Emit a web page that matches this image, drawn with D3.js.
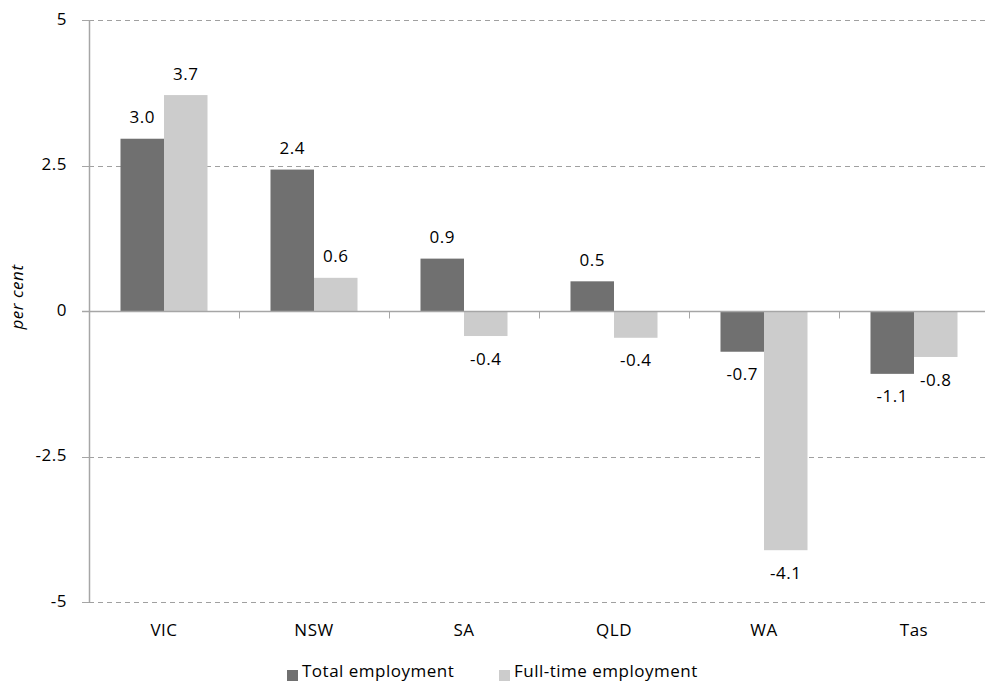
<!DOCTYPE html>
<html>
<head>
<meta charset="utf-8">
<script src="https://cdn.jsdelivr.net/npm/d3@7/dist/d3.min.js"></script>
<style>
  html, body { margin: 0; padding: 0; background: #fff; }
  text { font-family: "Open Sans", "Noto Sans", sans-serif; fill: #000; letter-spacing: 0.5px; }
</style>
</head>
<body>
<svg id="chart" width="985" height="685"></svg>
<script>
const categories = ["VIC", "NSW", "SA", "QLD", "WA", "Tas"];
const seriesNames = ["Total employment", "Full-time employment"];
const totalEmployment = [2.96, 2.43, 0.90, 0.51, -0.70, -1.08];
const fullTimeEmployment = [3.71, 0.57, -0.43, -0.46, -4.11, -0.79];
const totalLabels = ["3.0", "2.4", "0.9", "0.5", "-0.7", "-1.1"];
const fullTimeLabels = ["3.7", "0.6", "-0.4", "-0.4", "-4.1", "-0.8"];
const yTicks = [-5, -2.5, 0, 2.5, 5];
const yTickLabels = ["-5", "-2.5", "0", "2.5", "5"];
const colors = ["#707070", "#cccccc"];

const FS = 17;
const svg = d3.select("#chart");
const x0 = 89, x1 = 989;
const y = d3.scaleLinear().domain([-5, 5]).range([602, 20]);
const x = d3.scaleBand().domain(categories).range([x0, x1]).paddingInner(0).paddingOuter(0);
const inner = d3.scaleBand().domain([0, 1]).range([0, x.bandwidth()]).paddingInner(0).paddingOuter(0.724);

// gridlines (dashed, except zero)
svg.append("g").selectAll("line").data(yTicks.filter(t => t !== 0)).join("line")
  .attr("x1", x0).attr("x2", 985)
  .attr("y1", d => Math.round(y(d)) + 0.5).attr("y2", d => Math.round(y(d)) + 0.5)
  .attr("stroke", "#a0a0a0").attr("stroke-width", 1).attr("stroke-dasharray", "5,4");

// bars
const series = [totalEmployment, fullTimeEmployment];
const labels = [totalLabels, fullTimeLabels];
series.forEach((vals, s) => {
  const g = svg.append("g");
  g.selectAll("rect").data(vals).join("rect")
    .attr("x", (d, i) => x(categories[i]) + inner(s))
    .attr("width", inner.bandwidth())
    .attr("y", d => y(Math.max(0, d)))
    .attr("height", d => Math.abs(y(d) - y(0)))
    .attr("fill", colors[s]);
  g.selectAll("text").data(vals).join("text")
    .attr("x", (d, i) => x(categories[i]) + inner(s) + inner.bandwidth() / 2)
    .attr("y", d => d >= 0 ? y(d) - 20 : y(d) + 24)
    .attr("text-anchor", "middle")
    .attr("dominant-baseline", "middle")
    .attr("font-size", FS)
    .text((d, i) => labels[s][i]);
});

// zero axis line
const y0 = Math.round(y(0)) + 0.5;
svg.append("line").attr("x1", x0 - 7).attr("x2", 985).attr("y1", y0).attr("y2", y0)
  .attr("stroke", "#a6a6a6").attr("stroke-width", 1.5);
// category tick marks
svg.append("g").selectAll("line").data(categories.slice(1)).join("line")
  .attr("x1", d => Math.round(x(d)) + 0.5).attr("x2", d => Math.round(x(d)) + 0.5)
  .attr("y1", y0).attr("y2", y0 + 7)
  .attr("stroke", "#a6a6a6").attr("stroke-width", 1);

// y axis line and ticks
svg.append("line").attr("x1", x0 + 0.5).attr("x2", x0 + 0.5)
  .attr("y1", y(5)).attr("y2", y(-5)).attr("stroke", "#a6a6a6").attr("stroke-width", 1.5);
svg.append("g").selectAll("line").data(yTicks).join("line")
  .attr("x1", x0 - 7).attr("x2", x0)
  .attr("y1", d => Math.round(y(d)) + 0.5).attr("y2", d => Math.round(y(d)) + 0.5)
  .attr("stroke", "#a6a6a6").attr("stroke-width", 1);
svg.append("g").selectAll("text").data(yTicks).join("text")
  .attr("x", 67).attr("y", d => y(d))
  .attr("text-anchor", "end").attr("dominant-baseline", "middle")
  .attr("font-size", FS)
  .text((d, i) => yTickLabels[i]);

// y axis title
svg.append("text")
  .attr("transform", "translate(18,297) rotate(-90)")
  .attr("text-anchor", "middle").attr("dominant-baseline", "middle")
  .attr("font-size", FS).attr("font-style", "italic")
  .text("per cent");

// category labels
svg.append("g").selectAll("text").data(categories).join("text")
  .attr("x", d => x(d) + x.bandwidth() / 2).attr("y", 631)
  .attr("text-anchor", "middle").attr("dominant-baseline", "middle")
  .attr("font-size", FS)
  .text(d => d);

// legend
const legendX = [287, 499];
seriesNames.forEach((name, s) => {
  svg.append("rect").attr("x", legendX[s]).attr("y", 670).attr("width", 11).attr("height", 11)
    .attr("fill", colors[s]);
  svg.append("text").attr("x", legendX[s] + 15).attr("y", 672)
    .attr("dominant-baseline", "middle").attr("font-size", FS)
    .text(name);
});
</script>
</body>
</html>
